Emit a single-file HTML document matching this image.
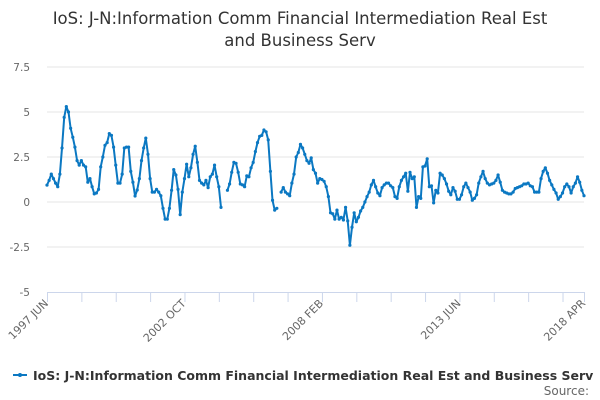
<!DOCTYPE html>
<html><head><meta charset="utf-8"><style>
body{margin:0;background:#fff;font-family:"DejaVu Sans","Liberation Sans",sans-serif;}
svg{display:block}
</style></head><body>
<svg id="chart" width="600" height="400" xmlns="http://www.w3.org/2000/svg">
<rect width="600" height="400" fill="#fff"/>
<text x="300" y="24" text-anchor="middle" font-size="16.5" fill="#333">IoS: J-N:Information Comm Financial Intermediation Real Est</text>
<text x="300" y="46" text-anchor="middle" font-size="16.5" fill="#333">and Business Serv</text>
<g id="grid"></g><g id="yaxis"></g><g id="xaxis"></g><g id="series"></g>
<g>
<line x1="13" y1="375" x2="27" y2="375" stroke="#0b78c2" stroke-width="2"/>
<circle cx="20" cy="375" r="2" fill="#0b78c2"/>
<text x="33" y="380" font-size="12.5" font-weight="bold" fill="#333">IoS: J-N:Information Comm Financial Intermediation Real Est and Business Serv</text>
</g>
<text x="589" y="395" text-anchor="end" font-size="12" fill="#666">Source:</text>
</svg>
<script>
const yTicks = [-5, -2.5, 0, 2.5, 5, 7.5];
const yTickLabels = ["-5", "-2.5", "0", "2.5", "5", "7.5"];
const xTickMonths = [0, 64, 128, 192, 250];
const xTickLabels = ["1997 JUN", "2002 OCT", "2008 FEB", "2013 JUN", "2018 APR"];
const values = [
0.94,1.2,1.55,1.3,1.05,0.85,1.55,3.0,4.7,5.3,5.0,4.1,3.6,3.05,2.3,2.05,2.3,2.05,1.95,1.1,
1.3,0.85,0.45,0.5,0.7,1.95,2.5,3.15,3.3,3.8,3.7,3.05,2.05,1.05,1.05,1.55,3.0,3.05,3.05,1.7,
1.1,0.33,0.67,1.3,2.3,3.0,3.55,2.65,1.3,0.55,0.55,0.7,0.55,0.35,-0.35,-0.95,-0.95,-0.35,0.65,1.8,
1.5,0.7,-0.7,0.55,1.3,2.1,1.4,1.9,2.65,3.1,2.2,1.2,1.05,0.95,1.2,0.8,1.4,1.55,2.05,1.4,
0.85,-0.3,null,null,0.65,1.0,1.65,2.2,2.15,1.65,1.0,0.95,0.85,1.45,1.4,1.9,2.2,2.8,3.3,3.65,
3.7,4.0,3.9,3.45,1.7,0.1,-0.45,-0.35,null,0.55,0.8,0.55,0.45,0.35,1.05,1.55,2.5,2.75,3.2,3.0,
2.65,2.3,2.15,2.45,1.8,1.6,1.05,1.3,1.25,1.15,0.85,0.3,-0.6,-0.65,-0.95,-0.45,-0.95,-0.85,-1.0,-0.3,
-1.05,-2.4,-1.4,-0.6,-1.1,-0.85,-0.5,-0.3,0.0,0.3,0.55,0.95,1.2,0.85,0.5,0.35,0.8,0.95,1.05,1.05,
0.9,0.8,0.3,0.2,0.85,1.2,1.4,1.6,0.6,1.65,1.3,1.4,-0.3,0.3,0.2,1.95,2.0,2.4,0.85,0.9,
-0.05,0.65,0.5,1.6,1.5,1.3,1.0,0.6,0.4,0.8,0.6,0.15,0.15,0.4,0.85,1.05,0.8,0.55,0.1,0.2,
0.4,1.05,1.4,1.7,1.3,1.05,0.95,1.0,1.05,1.2,1.5,1.1,0.65,0.55,0.5,0.45,0.45,0.55,0.75,0.8,
0.85,0.9,1.0,1.0,1.05,0.9,0.85,0.55,0.55,0.55,1.3,1.7,1.9,1.6,1.2,0.95,0.7,0.5,0.15,0.3,
0.5,0.85,1.0,0.85,0.5,0.85,1.05,1.4,1.1,0.65,0.35
];
const NS="http://www.w3.org/2000/svg";
const X0=47, X1=584, Y0=292, Y1=67, YMIN=-5, YMAX=7.5, NM=250;
function xs(m){return X0+(X1-X0)*m/NM;}
function ys(v){return Y0-(v-YMIN)/(YMAX-YMIN)*(Y0-Y1);}
function mk(tag,attrs,parent){const e=document.createElementNS(NS,tag);for(const k in attrs)e.setAttribute(k,attrs[k]);parent.appendChild(e);return e;}
const grid=document.getElementById('grid'), ya=document.getElementById('yaxis'), xa=document.getElementById('xaxis'), se=document.getElementById('series');
yTicks.forEach((t,i)=>{
  if(t!==YMIN){const l=mk('line',{x1:X0,x2:X1,y1:ys(t),y2:ys(t),stroke:'#e6e6e6','stroke-width':1},grid);
  
  }
  const tx=mk('text',{x:30,y:ys(t)+4,'text-anchor':'end','font-size':'10.5',fill:'#666'},ya);
  tx.textContent=yTickLabels[i];
  
  
});
const ax=mk('line',{x1:X0,x2:X1+1,y1:Y0+0.5,y2:Y0+0.5,stroke:'#ccd6eb','stroke-width':1},xa);


for(let m=0;m<NM;m+=16){
  const tk=mk('line',{x1:xs(m)+0.5,x2:xs(m)+0.5,y1:Y0,y2:Y0+10,stroke:'#ccd6eb','stroke-width':1},xa);
  
  
}
const tkl=mk('line',{x1:xs(NM)+0.5,x2:xs(NM)+0.5,y1:Y0,y2:Y0+10,stroke:'#ccd6eb','stroke-width':1},xa);


xTickMonths.forEach((m,i)=>{
  const x=xs(m)+2, y=Y0+12;
  const tx=mk('text',{x:x,y:y,'text-anchor':'end','font-size':'11',fill:'#666',transform:`rotate(-45 ${x} ${y})`},xa);
  tx.textContent=xTickLabels[i];
  
  
});
let segs=[],cur=[];
values.forEach((v,i)=>{if(v===null){if(cur.length)segs.push(cur);cur=[];}else cur.push([xs(i),ys(v)]);});
if(cur.length)segs.push(cur);
segs.forEach(s=>{
  const p=mk('path',{d:'M'+s.map(q=>q[0].toFixed(1)+','+q[1].toFixed(1)).join('L'),fill:'none',stroke:'#0b78c2','stroke-width':2,'stroke-linejoin':'round'},se);
  
  
});
values.forEach((v,i)=>{if(v===null)return;
  const c=mk('circle',{cx:xs(i),cy:ys(v),r:1.6,fill:'#0b78c2'},se);
  
  
});
</script>
</body></html>
